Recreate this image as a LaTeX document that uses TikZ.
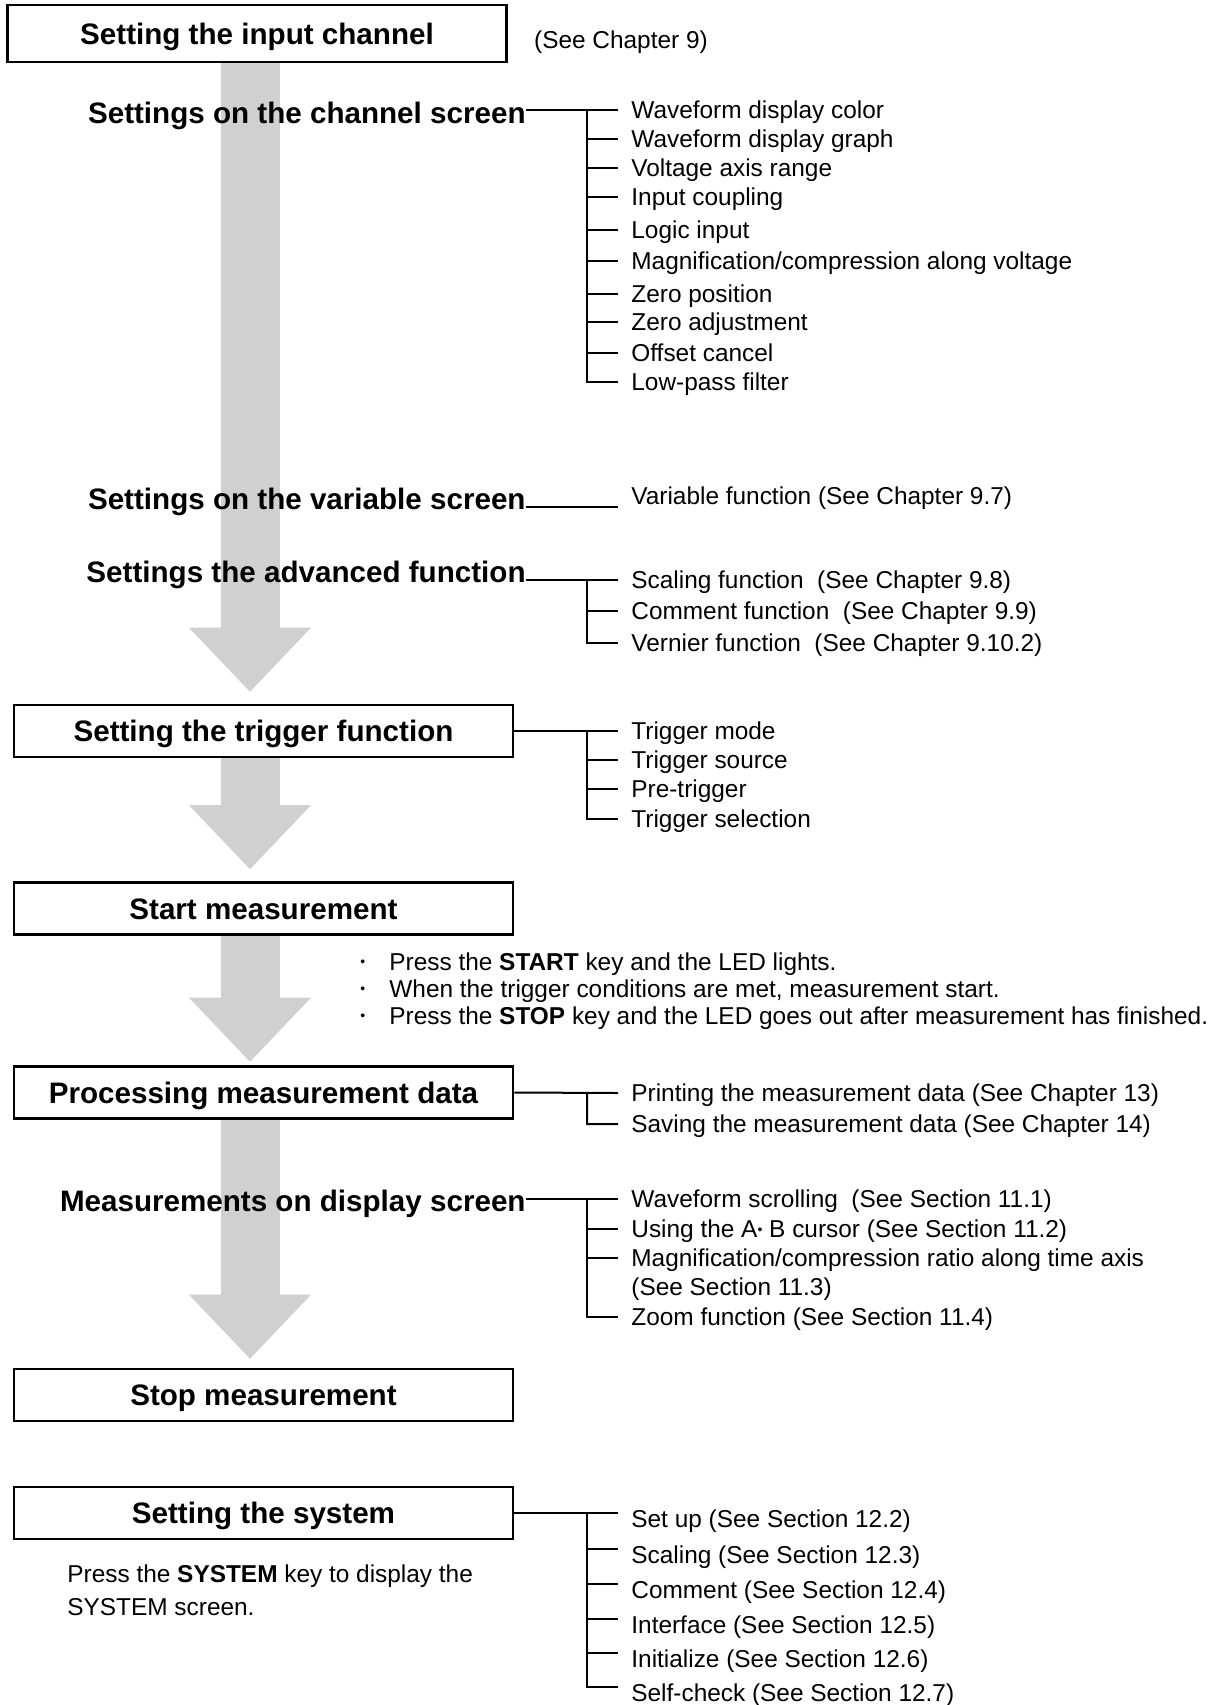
\documentclass[tikz,border=0pt]{standalone}
\usepackage{fontspec}
\setmainfont{Liberation Sans}
\usepackage{tikz}
\usetikzlibrary{positioning,arrows.meta,backgrounds}
\definecolor{cgrisclaro}{HTML}{D0D0D0}
\newcommand{\punto}{\raisebox{1.7pt}{\fontsize{7}{7}\selectfont•}}
\tikzset{
  caja/.style={rectangle, draw, line width=1.3pt, minimum width=249.5pt,
    minimum height=26pt, inner sep=0pt, text height=13pt, text depth=2.4pt,
    font=\bfseries\fontsize{14.8}{17}\selectfont},
  titulo/.style={anchor=east, inner sep=0pt, text height=13pt, text depth=2.4pt,
    font=\bfseries\fontsize{14.8}{17}\selectfont},
  opcion/.style={anchor=west, inner xsep=6.5pt, inner ysep=0pt, text height=11pt,
    text depth=2.5pt, font=\fontsize{12.2}{14}\selectfont},
  nota/.style={align=left, inner sep=0pt, font=\fontsize{12.2}{14}\selectfont},
  rama/.style={line width=1pt},
  flecha/.style={draw=cgrisclaro, line width=29.5pt,
    -{Triangle[width=61pt, length=32pt, line width=0pt]}},
}

\begin{document}
\begin{tikzpicture}[x=0.5pt, y=-0.5pt]
  \useasboundingbox (0,0) rectangle (1228,1705);
  \coordinate (ax) at (250,0);
  \coordinate (rx) at (587,0);
  % cajas del flujo
  \node[caja, minimum height=28.5pt] (in) at (257,33.5) {Setting the input channel};
  \node[nota, right=13pt of in, yshift=-4.25pt] (cap) {(See Chapter 9)};
  \node[caja] (trig) at (263.5,731) {Setting the trigger function};
  \node[caja] (start) at (263.5,908.5) {Start measurement};
  \node[caja] (proc) at (263.5,1092.5) {Processing measurement data};
  \node[caja] (stop) at (263.5,1395) {Stop measurement};
  \node[caja] (sys) at (263.5,1513) {Setting the system};
  % titulos sin caja
  \node[titulo] (hch) at (526,113) {Settings on the channel screen};
  \node[titulo] (hvar) at (526,499) {Settings on the variable screen};
  \node[titulo] (hadv) at (526,572) {Settings the advanced function};
  \node[titulo] (hdisp) at (526,1201) {Measurements on display screen};
  % pantalla de canal
  \node[opcion] (ch1) at (618,110) {Waveform display color};
  \node[opcion] (ch2) at (618,138.5) {Waveform display graph};
  \node[opcion] (ch3) at (618,168) {Voltage axis range};
  \node[opcion] (ch4) at (618,197) {Input coupling};
  \node[opcion] (ch5) at (618,229.5) {Logic input};
  \node[opcion] (ch6) at (618,260.5) {Magnification/compression along voltage};
  \node[opcion] (ch7) at (618,293.5) {Zero position};
  \node[opcion] (ch8) at (618,322) {Zero adjustment};
  \node[opcion] (ch9) at (618,352.5) {Offset cancel};
  \node[opcion] (ch10) at (618,382) {Low-pass filter};
  % variable y avanzadas
  \node[opcion] (var1) at (618,496) {Variable function (See Chapter 9.7)};
  \node[opcion] (adv1) at (618,580) {Scaling function~ (See Chapter 9.8)};
  \node[opcion] (adv2) at (618,611) {Comment function~ (See Chapter 9.9)};
  \node[opcion] (adv3) at (618,643) {Vernier function~ (See Chapter 9.10.2)};
  % disparo
  \node[opcion] (tr1) at (618,731) {Trigger mode};
  \node[opcion] (tr2) at (618,760) {Trigger source};
  \node[opcion] (tr3) at (618,789) {Pre-trigger};
  \node[opcion] (tr4) at (618,819) {Trigger selection};
  \node[nota, anchor=west, font=\fontsize{12.2}{13.5}\selectfont] (bul) at (360,991)
    {\makebox[14.5pt][l]{\punto}Press the \textbf{START} key and the LED lights.\\
     \makebox[14.5pt][l]{\punto}When the trigger conditions are met, measurement start.\\
     \makebox[14.5pt][l]{\punto}Press the \textbf{STOP} key and the LED goes out after measurement has finished.};
  % datos y pantalla
  \node[opcion] (pr1) at (618,1093) {Printing the measurement data (See Chapter 13)};
  \node[opcion] (pr2) at (618,1124) {Saving the measurement data (See Chapter 14)};
  \node[opcion] (dp1) at (618,1199) {Waveform scrolling~ (See Section 11.1)};
  \node[opcion] (dp2) at (618,1229) {Using the A\punto\ B cursor (See Section 11.2)};
  \node[opcion] (dp3) at (618,1258) {Magnification/compression ratio along time axis};
  \node[opcion] (dp4) at (618,1287) {(See Section 11.3)};
  \node[opcion] (dp5) at (618,1317) {Zoom function (See Section 11.4)};
  % sistema
  \node[opcion] (sy1) at (618,1519) {Set up (See Section 12.2)};
  \node[opcion] (sy2) at (618,1555) {Scaling (See Section 12.3)};
  \node[opcion] (sy3) at (618,1590) {Comment (See Section 12.4)};
  \node[opcion] (sy4) at (618,1625) {Interface (See Section 12.5)};
  \node[opcion] (sy5) at (618,1659) {Initialize (See Section 12.6)};
  \node[opcion] (sy6) at (618,1693) {Self-check (See Section 12.7)};
  \node[nota, anchor=west, font=\fontsize{12.2}{16.5}\selectfont] (nsys) at (67,1590)
    {Press the \textbf{SYSTEM} key to display the\\SYSTEM screen.};
  % ramas
  \draw[rama] (hch.east |- ch1.west) -- (ch1.west) (rx |- ch1.west) |- (ch10.west)
    (rx |- ch2.west) -- (ch2.west) (rx |- ch3.west) -- (ch3.west)
    (rx |- ch4.west) -- (ch4.west) (rx |- ch5.west) -- (ch5.west)
    (rx |- ch6.west) -- (ch6.west) (rx |- ch7.west) -- (ch7.west)
    (rx |- ch8.west) -- (ch8.west) (rx |- ch9.west) -- (ch9.west);
  \draw[rama] ([yshift=1.5pt]hvar.base east) -- ([yshift=1.5pt]hvar.base east -| var1.west);
  \draw[rama] (hadv.east |- adv1.west) -- (adv1.west) (rx |- adv1.west) |- (adv3.west)
    (rx |- adv2.west) -- (adv2.west);
  \draw[rama] (trig.east) -- (tr1.west) (rx |- tr1.west) |- (tr4.west)
    (rx |- tr2.west) -- (tr2.west) (rx |- tr3.west) -- (tr3.west);
  \draw[rama] (proc.east) -- (pr1.west) (rx |- pr1.west) |- (pr2.west);
  \draw[rama] (hdisp.east |- dp1.west) -- (dp1.west) (rx |- dp1.west) |- (dp5.west)
    (rx |- dp2.west) -- (dp2.west) (rx |- dp3.west) -- (dp3.west);
  \draw[rama] (sys.east) -- ([yshift=3pt]sy1.west) (rx |- sy1.west) ++(0,-6) |- ([yshift=3pt]sy6.west)
    ([yshift=3pt]sy2.west -| rx) -- ([yshift=3pt]sy2.west)
    ([yshift=3pt]sy3.west -| rx) -- ([yshift=3pt]sy3.west)
    ([yshift=3pt]sy4.west -| rx) -- ([yshift=3pt]sy4.west)
    ([yshift=3pt]sy5.west -| rx) -- ([yshift=3pt]sy5.west);
  % flechas grises detras
  \begin{scope}[on background layer]
    \draw[flecha, shorten >=6pt] (in.south -| ax) -- (trig.north -| ax);
    \draw[flecha, shorten >=6pt] (trig.south -| ax) -- (start.north -| ax);
    \draw[flecha, shorten >=1.75pt] (start.south -| ax) -- (proc.north -| ax);
    \draw[flecha, shorten >=4.5pt] (proc.south -| ax) -- (stop.north -| ax);
  \end{scope}
\end{tikzpicture}
\end{document}
